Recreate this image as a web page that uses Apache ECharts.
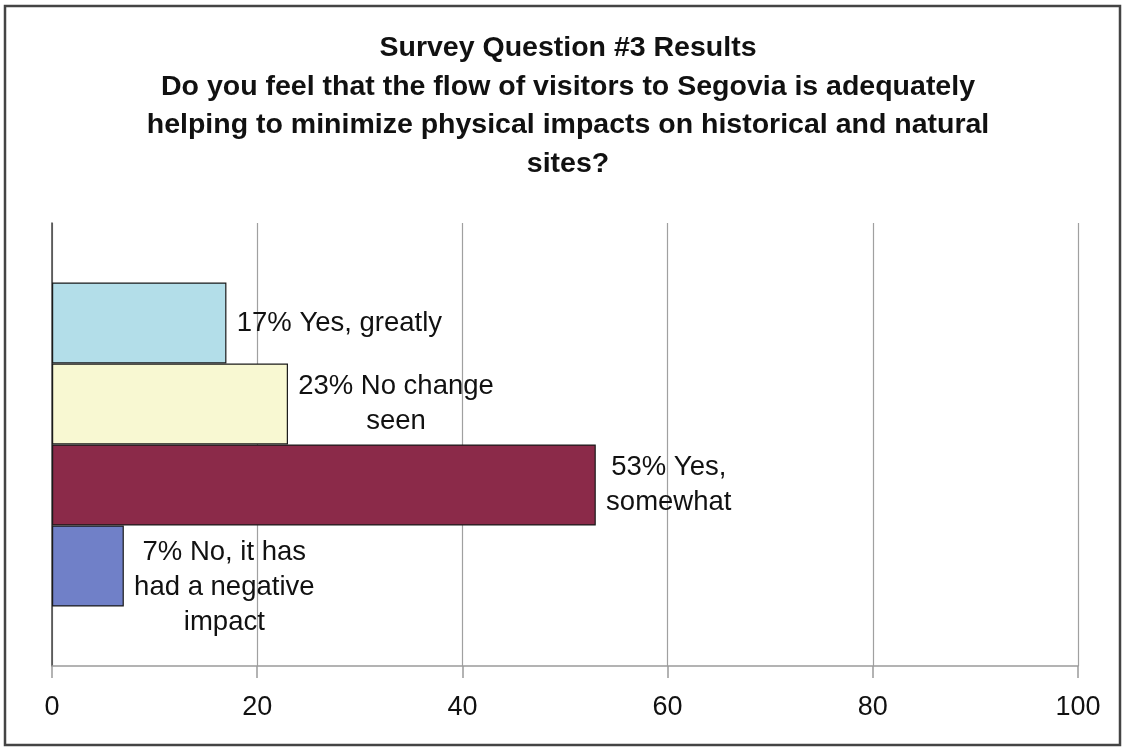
<!DOCTYPE html>
<html>
<head>
<meta charset="utf-8">
<script src="https://cdn.jsdelivr.net/npm/echarts@6/dist/echarts.min.js"></script>
<style>
  html, body { margin: 0; padding: 0; background: #ffffff; }
  #chart { width: 1125px; height: 749px; }
</style>
</head>
<body>
<div id="chart"></div>
<script>
// Survey answers (label text keeps its own line breaks) and their shares in percent
const answers = ['Yes, greatly', 'No change\nseen', 'Yes,\nsomewhat', 'No, it has\nhad a negative\nimpact'];
const shares = [17, 23, 53, 7];
const barColors = ['#B3DEE9', '#F8F8D2', '#8B2A49', '#7080C8'];
const xTicks = [0, 20, 40, 60, 80, 100];

const titleText = 'Survey Question #3 Results\nDo you feel that the flow of visitors to Segovia is adequately\nhelping to minimize physical impacts on historical and natural\nsites?';

const FONT = 'Arial, "Liberation Sans", sans-serif';
const LABEL_SIZE = 27.5;

// widest line of a label, so its lines can be centred in a common box
const measureCtx = document.createElement('canvas').getContext('2d');
measureCtx.font = LABEL_SIZE + 'px ' + FONT;
function widest(lines) {
  return Math.ceil(Math.max.apply(null, lines.map(function (l) { return measureCtx.measureText(l).width; })));
}

// first series sits at the top of the band
const series = shares.map(function (v, i) {
  const lines = (v + '% ' + answers[i]).split('\n');
  const w = widest(lines);
  return {
    type: 'bar',
    name: answers[i].replace(/\n/g, ' '),
    data: [v],
    barWidth: 81,
    barGap: '0%',
    itemStyle: { color: barColors[i], borderColor: '#1a1a1a', borderWidth: 1.2 },
    label: {
      show: true,
      position: 'right',
      distance: 10,
      offset: i === 3 ? [0, 21] : [0, 0],
      formatter: lines.map(function (l) { return '{c|' + l + '}'; }).join('\n'),
      rich: {
        c: {
          width: w,
          align: 'center',
          color: '#111',
          fontFamily: FONT,
          fontSize: LABEL_SIZE,
          lineHeight: 35
        }
      }
    },
    emphasis: { disabled: true }
  };
});

const chart = echarts.init(document.getElementById('chart'), null, { renderer: 'canvas' });
chart.setOption({
  backgroundColor: '#ffffff',
  animation: false,
  title: {
    text: titleText,
    left: 563,
    top: 24,
    textAlign: 'center',
    textStyle: {
      fontFamily: FONT,
      fontWeight: 'bold',
      fontSize: 28.5,
      lineHeight: 38.5,
      color: '#111'
    }
  },
  grid: { left: 52, right: 47, top: 223, bottom: 83, containLabel: false },
  xAxis: {
    type: 'value',
    min: 0,
    max: xTicks[xTicks.length - 1],
    interval: xTicks[1] - xTicks[0],
    axisLine: { show: true, lineStyle: { color: '#9a9a9a', width: 1.5 } },
    axisTick: { show: true, length: 12, lineStyle: { color: '#9a9a9a', width: 1.5 } },
    axisLabel: { color: '#111', fontFamily: FONT, fontSize: 27, margin: 28 },
    splitLine: { show: true, lineStyle: { color: '#a0a0a0', width: 1.2 } }
  },
  yAxis: {
    type: 'category',
    data: [''],
    inverse: true,
    axisLine: { show: true, lineStyle: { color: '#444', width: 1.5 } },
    axisTick: { show: false },
    axisLabel: { show: false },
    splitLine: { show: false }
  },
  series: series,
  graphic: [{
    type: 'rect',
    shape: { x: 5, y: 6, width: 1115, height: 739 },
    style: { fill: 'none', stroke: '#444', lineWidth: 2.5 },
    silent: true,
    z: 100
  }]
});
</script>
</body>
</html>
